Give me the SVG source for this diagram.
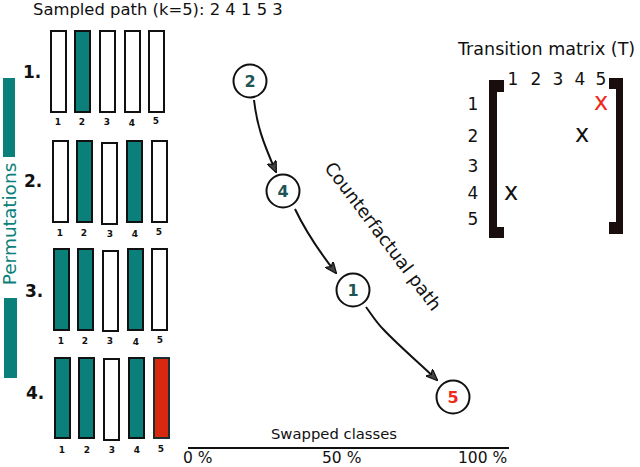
<svg xmlns="http://www.w3.org/2000/svg" width="640" height="467" viewBox="0 0 640 467">
<style>
text{font-family:"DejaVu Sans","Liberation Sans",sans-serif}
.bar{stroke:#111;stroke-width:2;fill:#fff}
.t{fill:#0b7f79}
.r{fill:#d8280f}
.bl{font-size:9px;font-weight:bold;text-anchor:middle;fill:#111}
.rn{font-size:17px;font-weight:bold;fill:#111}
.node circle{fill:#fff;stroke:#111;stroke-width:2}
.node text{font-size:16px;font-weight:bold;text-anchor:middle;fill:#1e5656}
.conn path{fill:none;stroke:#111;stroke-width:2;marker-end:url(#ah)}
.mx{font-size:17px;fill:#111;text-anchor:middle}
.br{fill:#1a0d0d}
</style>
<defs>
<marker id="ah" viewBox="0 0 12 10" refX="11" refY="5" markerWidth="12" markerHeight="10" markerUnits="userSpaceOnUse" orient="auto">
<path d="M0,0 L12,5 L0,10 L3,5 Z" fill="#444" stroke="#111" stroke-width="1.2"/>
</marker>
</defs>
<rect width="640" height="467" fill="#fff"/>
<text x="33" y="15" font-size="16.4" fill="#111">Sampled path (k=5): 2 4 1 5 3</text>

<g id="permutations-label">
<rect x="3" y="78" width="12" height="79" class="t"/>
<rect x="4" y="298" width="13" height="80" class="t"/>
<text transform="translate(16,224) rotate(-90)" font-size="18.5" text-anchor="middle" class="t">Permutations</text>
</g>

<g id="row1">
<text x="23" y="78" class="rn">1.</text>
<rect x="51" y="31" width="15" height="81" class="bar"/>
<rect x="75" y="31" width="15" height="81" class="bar t"/>
<rect x="100" y="31" width="15" height="81" class="bar"/>
<rect x="125" y="31" width="15" height="81" class="bar"/>
<rect x="149" y="31" width="15" height="81" class="bar"/>
<text x="58" y="125" class="bl">1</text><text x="82" y="125" class="bl">2</text><text x="107" y="125" class="bl">3</text><text x="132" y="126" class="bl">4</text><text x="156" y="124" class="bl">5</text>
</g>
<g id="row2">
<text x="24" y="187" class="rn">2.</text>
<rect x="53" y="141" width="15" height="81" class="bar"/>
<rect x="77" y="141" width="15" height="81" class="bar t"/>
<rect x="102" y="143" width="15" height="81" class="bar"/>
<rect x="127" y="141" width="15" height="81" class="bar t"/>
<rect x="152" y="141" width="15" height="81" class="bar"/>
<text x="60" y="236" class="bl">1</text><text x="84" y="236" class="bl">2</text><text x="110" y="237" class="bl">3</text><text x="135" y="237" class="bl">4</text><text x="159" y="235" class="bl">5</text>
</g>
<g id="row3">
<text x="25" y="297" class="rn">3.</text>
<rect x="54" y="249" width="15" height="81" class="bar t"/>
<rect x="78" y="249" width="15" height="81" class="bar t"/>
<rect x="103" y="251" width="15" height="80" class="bar"/>
<rect x="128" y="249" width="15" height="81" class="bar t"/>
<rect x="152" y="249" width="15" height="81" class="bar"/>
<text x="61" y="344" class="bl">1</text><text x="85" y="344" class="bl">2</text><text x="110" y="344" class="bl">3</text><text x="136" y="345" class="bl">4</text><text x="160" y="343" class="bl">5</text>
</g>
<g id="row4">
<text x="26" y="399" class="rn">4.</text>
<rect x="55" y="358" width="15" height="80" class="bar t"/>
<rect x="79" y="358" width="15" height="80" class="bar t"/>
<rect x="104" y="359" width="15" height="81" class="bar"/>
<rect x="129" y="358" width="15" height="80" class="bar t"/>
<rect x="154" y="358" width="15" height="80" class="bar r" style="stroke:#1a3030"/>
<text x="62" y="453" class="bl">1</text><text x="87" y="453" class="bl">2</text><text x="112" y="453" class="bl">3</text><text x="137" y="453" class="bl">4</text><text x="161" y="452" class="bl">5</text>
</g>

<g id="connectors" class="conn">
<path d="M254,100 C257,125 262,140 276,172"/>
<path d="M295,209 C305,230 318,250 336,273"/>
<path d="M366,307 C372,315 376,322 383,329 C398,345 418,362 437,380"/>
</g>

<g id="node-2" class="node"><circle cx="250" cy="81" r="16.5"/><text x="250" y="87">2</text></g>
<g id="node-4" class="node"><circle cx="283" cy="191" r="16.5"/><text x="283" y="197">4</text></g>
<g id="node-1" class="node"><circle cx="353" cy="290" r="16.5"/><text x="353" y="296">1</text></g>
<g id="node-5" class="node"><circle cx="453" cy="397" r="16.5"/><text x="453" y="403" style="fill:#ee2a1a">5</text></g>

<text transform="translate(378,240) rotate(53)" font-size="18" text-anchor="middle" fill="#111">Counterfactual path</text>

<g id="matrix">
<text x="458" y="55" font-size="17.5" fill="#111">Transition matrix (T)</text>
<path class="br" d="M489,80 H504 V92 H497 V227 H504 V238 H489 Z"/>
<path class="br" d="M609,78 H623 V234 H609 V222 H616 V89 H609 Z"/>
<text x="513" y="85" class="mx">1</text><text x="536" y="85" class="mx">2</text><text x="558" y="85" class="mx">3</text><text x="580" y="85" class="mx">4</text><text x="601" y="85" class="mx">5</text>
<text x="473" y="110" class="mx">1</text><text x="473" y="142" class="mx">2</text><text x="473" y="172" class="mx">3</text><text x="473" y="199" class="mx">4</text><text x="473" y="225" class="mx">5</text>
<text x="601" y="110" font-size="24" text-anchor="middle" fill="#ee2a1a">x</text>
<text x="582" y="142" font-size="24" text-anchor="middle" fill="#111">x</text>
<text x="511" y="200" font-size="24" text-anchor="middle" fill="#111">x</text>
</g>

<g id="axis">
<text x="334" y="439" font-size="14.8" text-anchor="middle" fill="#111">Swapped classes</text>
<line x1="188" y1="448" x2="509" y2="448" stroke="#111" stroke-width="2"/>
<text x="183" y="463" font-size="15.5" fill="#111">0 %</text>
<text x="322" y="463" font-size="15.5" fill="#111">50 %</text>
<text x="458" y="463" font-size="15.5" fill="#111">100 %</text>
</g>
</svg>
